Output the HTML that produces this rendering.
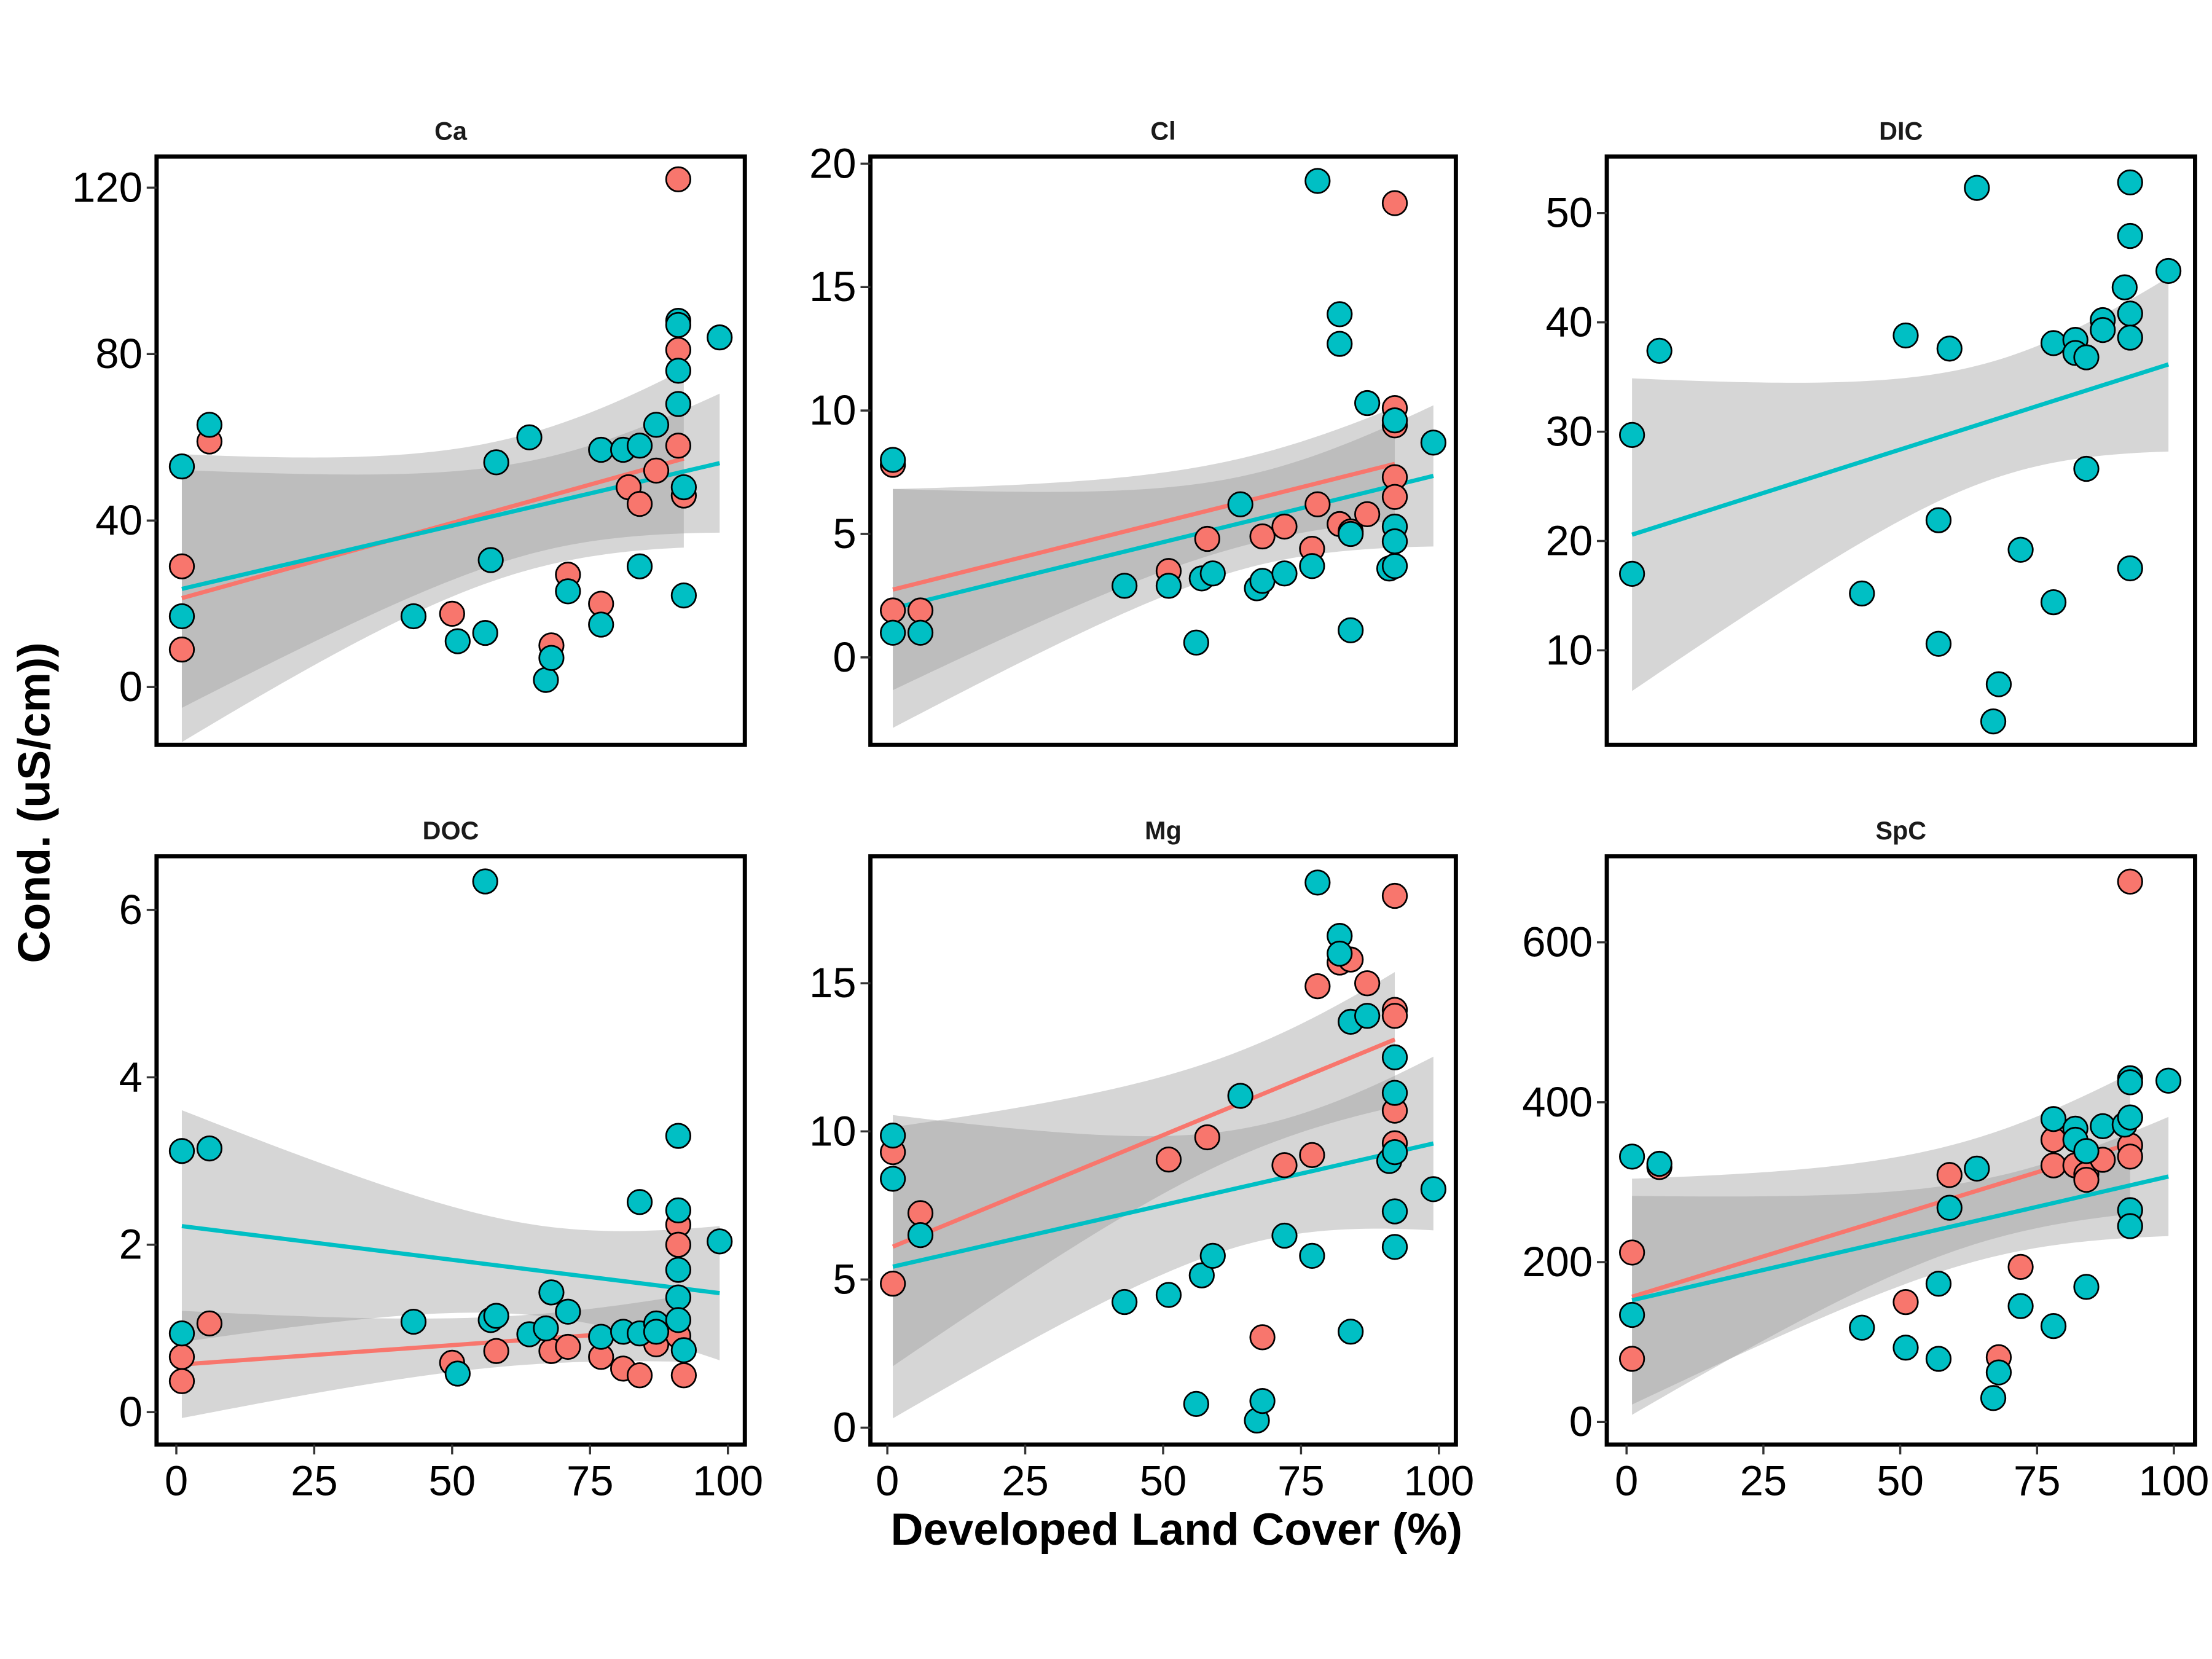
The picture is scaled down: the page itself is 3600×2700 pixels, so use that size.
<!DOCTYPE html>
<html><head><meta charset="utf-8"><style>
html,body{margin:0;padding:0;background:#fff;}
svg{display:block;font-family:"Liberation Sans",Arial,sans-serif;}
</style></head><body>
<svg id="chart" width="3600" height="2700" viewBox="0 0 1568 1176" xmlns="http://www.w3.org/2000/svg">
<rect width="1568" height="1176" fill="#fff"/>
<text x="35" y="569" transform="rotate(-90 35 569)" text-anchor="middle" font-size="32" font-weight="bold">Cond. (uS/cm))</text>
<text x="834" y="1095" text-anchor="middle" font-size="32" font-weight="bold">Developed Land Cover (%)</text>
</svg>
<script>
// ---- data ----
const panelNames = ["Ca","Cl","DIC","DOC","Mg","SpC"];
const yTicksCa = [0,40,80,120];
const yTicksCl = [0,5,10,15,20];
const yTicksDIC = [10,20,30,40,50];
const yTicksDOC = [0,2,4,6];
const yTicksMg = [0,5,10,15];
const yTicksSpC = [0,200,400,600];
const xTicks = [0,25,50,75,100];

const caTealX = [1,1,6,43,51,56,57,58,64,67,68,71,77,77,81,84,84,87,91,91,91,91,92,92,98.5];
const caTealY = [53,17,63,17,11,13,30.5,54,60,1.7,7,23,15,57,57,58,29,63,76,88,87,68,48,22,84];
const caRedX = [1,1,6,50,68,71,77,82,84,87,91,91,91,92];
const caRedY = [29,9,59,17.6,10,27,20,48,44,52,122,81,58,46];

const clTealX = [1,1,6,43,51,56,57,59,64,67,68,72,77,78,82,82,84,84,87,91,92,92,92,92,99];
const clTealY = [1,8,1,2.9,2.9,0.6,3.2,3.4,6.2,2.8,3.1,3.4,3.7,19.3,12.7,13.9,1.1,5,10.3,3.6,9.6,5.3,4.7,3.7,8.7];
const clRedX = [1,1,6,51,58,68,72,77,78,82,84,87,92,92,92,92,92];
const clRedY = [7.8,1.9,1.9,3.5,4.8,4.9,5.3,4.4,6.2,5.4,5.1,5.8,18.4,10.1,9.4,7.3,6.5];

const dicTealX = [1,1,6,43,51,57,57,59,64,68,67,72,78,78,82,82,84,84,87,87,91,92,92,92,92,92,99];
const dicTealY = [29.7,17,37.4,15.2,38.8,10.6,21.9,37.6,52.3,6.9,3.5,19.2,14.4,38.1,38.4,37.2,36.8,26.6,40.2,39.3,43.2,40.8,47.9,52.8,38.6,17.5,44.7];
const dicRedX = [];
const dicRedY = [];

const docTealX = [1,1,6,43,51,56,57,58,64,67,68,71,77,81,84,84,87,87,91,91,91,91,91,92,98.5];
const docTealY = [0.94,3.12,3.15,1.08,0.46,6.34,1.1,1.15,0.93,1.0,1.43,1.2,0.9,0.96,0.94,2.51,1.06,0.96,3.3,2.41,1.7,1.37,1.1,0.74,2.04];
const docRedX = [1,1,6,50,58,68,71,77,81,84,87,91,91,91,92];
const docRedY = [0.66,0.37,1.06,0.59,0.73,0.73,0.78,0.66,0.52,0.44,0.81,2.24,2.0,0.91,0.44];

const mgTealX = [1,1,6,43,51,56,57,59,64,67,68,72,77,78,82,82,84,84,87,91,92,92,92,92,99,92];
const mgTealY = [9.86,8.4,6.5,4.24,4.48,0.8,5.14,5.8,11.2,0.24,0.9,6.48,5.8,18.4,16.6,16,3.24,13.7,13.9,9,12.5,11.3,7.3,6.1,8.05,9.3];
const mgRedX = [1,1,6,51,58,68,72,77,78,82,84,87,92,92,92,92,92];
const mgRedY = [9.3,4.86,7.24,9.05,9.8,3.05,8.86,9.2,14.9,15.7,15.8,15,17.95,14.1,13.9,10.7,9.6];

const spcTealX = [1,1,6,43,51,57,57,59,64,67,68,72,78,78,82,82,84,84,87,91,92,92,92,92,92,99];
const spcTealY = [332,134,323,118,93,79,173,268,317,30,62,145,120,379,367,353,169,339,370,372,430,425,381,265,245,427];
const spcRedX = [1,1,6,51,59,68,72,78,78,82,84,84,87,92,92,92];
const spcRedY = [212,79,319,150,309,81,194,353,321,321,310,303,328,676,346,332];

// ---- layout ----
const panels = [
 {name:"Ca", x0:111,x1:528,y0:111,y1:528, xa:[125,516], ya:[0,487,120,133], ticks:yTicksCa, tX:caTealX,tY:caTealY,rX:caRedX,rY:caRedY, showX:false},
 {name:"Cl", x0:617,x1:1032,y0:111,y1:528, xa:[629,1020], ya:[0,466,20,116], ticks:yTicksCl, tX:clTealX,tY:clTealY,rX:clRedX,rY:clRedY, showX:false},
 {name:"DIC", x0:1139,x1:1556,y0:111,y1:528, xa:[1153,1541], ya:[10,461,50,151], ticks:yTicksDIC, tX:dicTealX,tY:dicTealY,rX:dicRedX,rY:dicRedY, showX:false},
 {name:"DOC", x0:111,x1:528,y0:607,y1:1024, xa:[125,516], ya:[0,1001,6,645], ticks:yTicksDOC, tX:docTealX,tY:docTealY,rX:docRedX,rY:docRedY, showX:true},
 {name:"Mg", x0:617,x1:1032,y0:607,y1:1024, xa:[629,1020], ya:[0,1012,15,697], ticks:yTicksMg, tX:mgTealX,tY:mgTealY,rX:mgRedX,rY:mgRedY, showX:true},
 {name:"SpC", x0:1139,x1:1556,y0:607,y1:1024, xa:[1153,1541], ya:[0,1008,600,668], ticks:yTicksSpC, tX:spcTealX,tY:spcTealY,rX:spcRedX,rY:spcRedY, showX:true}
];
const NS="http://www.w3.org/2000/svg";
const svg=document.getElementById("chart");
function mk(tag,attrs,parent){const e=document.createElementNS(NS,tag);for(const k in attrs)e.setAttribute(k,attrs[k]);(parent||svg).appendChild(e);return e;}

function fit(xs,ys){
  const n=xs.length; if(n<3) return null;
  const mx=xs.reduce((a,b)=>a+b,0)/n, my=ys.reduce((a,b)=>a+b,0)/n;
  let sxx=0,sxy=0; for(let i=0;i<n;i++){sxx+=(xs[i]-mx)**2;sxy+=(xs[i]-mx)*(ys[i]-my);}
  const b=sxy/sxx,a=my-b*mx; let sse=0; for(let i=0;i<n;i++) sse+=(ys[i]-a-b*xs[i])**2;
  const s=Math.sqrt(sse/(n-2)); const t=n>25?2.06:2.13;
  return {a,b,s,n,mx,sxx,t,min:Math.min(...xs),max:Math.max(...xs)};
}

panels.forEach(p=>{
  const g=mk("g",{});
  
  
  const sx=v=>p.xa[0]+(p.xa[1]-p.xa[0])*v/100;
  const sy=v=>p.ya[1]+(p.ya[3]-p.ya[1])*(v-p.ya[0])/(p.ya[2]-p.ya[0]);
  const clipId="clip"+p.name;
  const cp=mk("clipPath",{id:clipId},g); mk("rect",{x:p.x0,y:p.y0,width:p.x1-p.x0,height:p.y1-p.y0},cp);
  const inner=mk("g",{"clip-path":"url(#"+clipId+")"},g);
  const groups=[{xs:p.rX,ys:p.rY,col:"#F8766D",nm:"red"},{xs:p.tX,ys:p.tY,col:"#00BFC4",nm:"teal"}];
  const fits=groups.map(gr=>fit(gr.xs,gr.ys));
  fits.forEach((f,i)=>{ if(!f) return;
    let up=[],lo=[];
    for(let k=0;k<=80;k++){const x=f.min+(f.max-f.min)*k/80;const yh=f.a+f.b*x;
      const se=f.s*Math.sqrt(1/f.n+(x-f.mx)**2/f.sxx);
      up.push(sx(x).toFixed(2)+","+sy(yh+f.t*se).toFixed(2)); lo.unshift(sx(x).toFixed(2)+","+sy(yh-f.t*se).toFixed(2));}
    const band=mk("polygon",{points:up.concat(lo).join(" "),fill:"#999999","fill-opacity":"0.4"},inner);
    
    
  });
  fits.forEach((f,i)=>{ if(!f) return;
    const ln=mk("line",{x1:sx(f.min),y1:sy(f.a+f.b*f.min),x2:sx(f.max),y2:sy(f.a+f.b*f.max),stroke:groups[i].col,"stroke-width":3},inner);
    
    
  });
  groups.forEach(gr=>{
    gr.xs.forEach((x,i)=>{
      const c=mk("circle",{cx:sx(x),cy:sy(gr.ys[i]),r:8.6,fill:gr.col,stroke:"#000","stroke-width":1.2},g);
      
      
    });
  });
  const fr=mk("rect",{x:p.x0,y:p.y0,width:p.x1-p.x0,height:p.y1-p.y0,fill:"none",stroke:"#000","stroke-width":3},g);
  
  
  const tt=mk("text",{x:(p.x0+p.x1)/2,y:p.y0-12,"text-anchor":"middle","font-size":18,"font-weight":"bold",fill:"#1a1a1a"},g);
  tt.textContent=p.name;
  
  
  p.ticks.forEach(v=>{
    const y=sy(v);
    mk("line",{x1:p.x0-7,y1:y,x2:p.x0,y2:y,stroke:"#333","stroke-width":1.5},g);
    const t=mk("text",{x:p.x0-10,y:y+10,"text-anchor":"end","font-size":30,fill:"#000"},g);
    t.textContent=v;
    
    
  });
  if(p.showX){ xTicks.forEach(v=>{
    const x=sx(v);
    mk("line",{x1:x,y1:p.y1,x2:x,y2:p.y1+7,stroke:"#333","stroke-width":1.5},g);
    const t=mk("text",{x:x,y:p.y1+36,"text-anchor":"middle","font-size":30,fill:"#000"},g);
    t.textContent=v;
    
    
  });}
});
</script>
</body></html>
